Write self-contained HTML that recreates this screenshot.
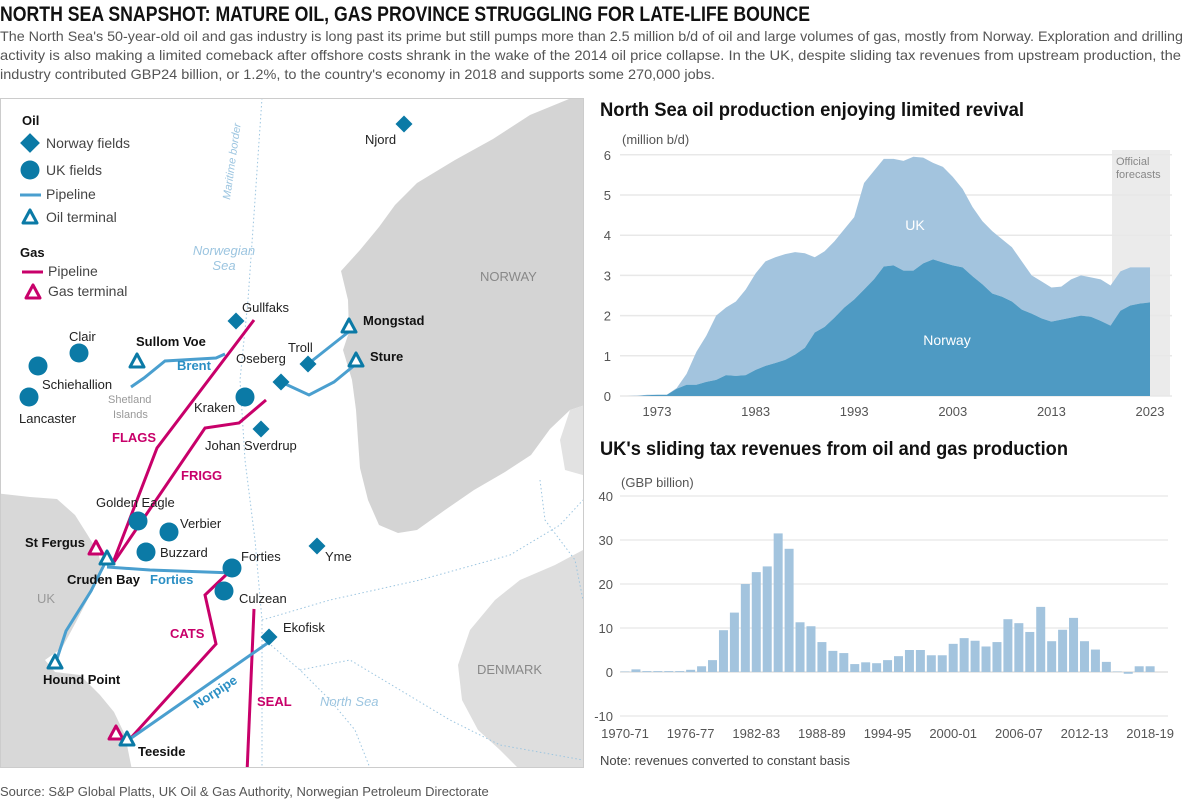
<!DOCTYPE html>
<html><head><meta charset="utf-8"><style>
html,body{margin:0;padding:0;background:#fff;}
svg{display:block;font-family:"Liberation Sans",sans-serif;}
.lbl{font-size:13px;fill:#222;}
.blbl{font-size:13px;fill:#111;font-weight:bold;}
.ax{font-size:13px;fill:#555;}
</style></head><body>
<svg id="root" width="1200" height="803" viewBox="0 0 1200 803">
<text x="0" y="21" font-size="21" font-weight="bold" fill="#111" textLength="810" lengthAdjust="spacingAndGlyphs">NORTH SEA SNAPSHOT: MATURE OIL, GAS PROVINCE STRUGGLING FOR LATE-LIFE BOUNCE</text>
<g font-size="14" fill="#555">
<text x="0" y="41" textLength="1183" lengthAdjust="spacingAndGlyphs">The North Sea's 50-year-old oil and gas industry is long past its prime but still pumps more than 2.5 million b/d of oil and large volumes of gas, mostly from Norway. Exploration and drilling</text>
<text x="0" y="60" textLength="1181" lengthAdjust="spacingAndGlyphs">activity is also making a limited comeback after offshore costs shrank in the wake of the 2014 oil price collapse. In the UK, despite sliding tax revenues from upstream production, the</text>
<text x="0" y="79" textLength="715" lengthAdjust="spacingAndGlyphs">industry contributed GBP24 billion, or 1.2%, to the country's economy in 2018 and supports some 270,000 jobs.</text>
</g>

<!-- MAP -->
<g>
<clipPath id="mc"><rect x="0" y="98" width="584" height="670"/></clipPath>
<g clip-path="url(#mc)">
<rect x="0" y="98" width="584" height="670" fill="#fff"/>
<path fill="#d4d4d4" d="M600,95 L569,99 L530,115 L493,139 L455,160 L417,183 L395,205 L379,227 L360,250 L341,271 L348,300 L349,332 L343,350 L352,380 L356,410 L358,440 L360,468 L368,500 L379,525 L398,533 L417,530 L445,510 L474,490 L505,472 L531,455 L550,429 L570,410 L600,400 Z"/>
<path fill="#e2e2e2" d="M600,400 L570,410 L560,440 L565,470 L600,480 Z"/>
<path fill="#dedede" d="M600,555 L583,550 L555,565 L520,580 L495,600 L470,630 L458,665 L462,700 L478,730 L500,750 L520,770 L600,770 Z"/>
<path fill="#d8d8d8" d="M-5,493 L30,497 L57,499 L75,515 L87,534 L98,552 L102,569 L90,595 L76,622 L62,648 L45,660 L55,672 L80,675 L100,695 L114,712 L125,735 L133,775 L-5,775 Z"/>
<g fill="none" stroke="#9cc5e0" stroke-width="1" stroke-dasharray="1.5,2.5">
<path d="M262,98 L255,200 L248,300 L240,380 L245,460 L255,540 L262,620 L262,770"/>
<path d="M262,620 L330,600 L420,580 L510,555 L560,525 L583,500"/>
<path d="M265,640 L300,670 L330,700 L355,730 L370,768"/>
<path d="M300,670 L350,660 L400,690 L450,720 L500,745 L583,760"/>
<path d="M540,480 L545,520 L575,560 L583,600"/>
</g>
<text x="230" y="200" font-size="11" font-style="italic" fill="#9cc5e0" transform="rotate(-82 230 200)">Maritime border</text>
<text x="224" y="255" text-anchor="middle" font-size="13" font-style="italic" fill="#9cc5e0">Norwegian</text>
<text x="224" y="270" text-anchor="middle" font-size="13" font-style="italic" fill="#9cc5e0">Sea</text>
<text x="320" y="706" font-size="13" font-style="italic" fill="#9cc5e0">North Sea</text>
<text x="480" y="281" font-size="13" fill="#888">NORWAY</text>
<text x="477" y="674" font-size="13" fill="#888">DENMARK</text>
<text x="37" y="603" font-size="13" fill="#999">UK</text>
<text x="108" y="403" font-size="11" fill="#999">Shetland</text>
<text x="113" y="418" font-size="11" fill="#999">Islands</text>

<g fill="none" stroke="#c8006a" stroke-width="3">
<polyline points="254,320 157,448 114,560"/>
<polyline points="266,400 239,423 205,428 114,562"/>
<polyline points="228,573 205,595 216,644 129,740"/>
<polyline points="254,609 247,773"/>
</g>
<g fill="none" stroke="#4a9fcf" stroke-width="3">
<polyline points="131,387 144,378 165,361 216,358 225,354"/>
<polyline points="107,567 150,570 234,573"/>
<polyline points="107,559 91,591 66,631 55,665"/>
<polyline points="272,640 127,741"/>
<polyline points="308,364 351,330"/>
<polyline points="281,382 309,395 334,382 356,364"/>
</g>
<g fill="#0b7aa6">
<rect x="-6" y="-6" width="12" height="12" transform="translate(404,124) rotate(45)"/>
<rect x="-6" y="-6" width="12" height="12" transform="translate(236,321) rotate(45)"/>
<rect x="-6" y="-6" width="12" height="12" transform="translate(308,364) rotate(45)"/>
<rect x="-6" y="-6" width="12" height="12" transform="translate(281,382) rotate(45)"/>
<rect x="-6" y="-6" width="12" height="12" transform="translate(261,429) rotate(45)"/>
<rect x="-6" y="-6" width="12" height="12" transform="translate(317,546) rotate(45)"/>
<rect x="-6" y="-6" width="12" height="12" transform="translate(269,637) rotate(45)"/>
</g>
<g fill="#0b7aa6">
<circle cx="79" cy="353" r="9.5"/>
<circle cx="38" cy="366" r="9.5"/>
<circle cx="29" cy="397" r="9.5"/>
<circle cx="245" cy="397" r="9.5"/>
<circle cx="138" cy="521" r="9.5"/>
<circle cx="169" cy="532" r="9.5"/>
<circle cx="146" cy="552" r="9.5"/>
<circle cx="232" cy="568" r="9.5"/>
<circle cx="224" cy="591" r="9.5"/>
</g>
<g fill="#fff" stroke-width="3" stroke-linejoin="round">
<path stroke="#c8006a" d="M96,541 L103,554 L89,554 Z"/>
<path stroke="#c8006a" d="M116,726 L123,739 L109,739 Z"/>
<path stroke="#0b7aa6" d="M137,354 L144,367 L130,367 Z"/>
<path stroke="#0b7aa6" d="M349,319 L356,332 L342,332 Z"/>
<path stroke="#0b7aa6" d="M356,353 L363,366 L349,366 Z"/>
<path stroke="#0b7aa6" d="M107,551 L114,564 L100,564 Z"/>
<path stroke="#0b7aa6" d="M55,655 L62,668 L48,668 Z"/>
<path stroke="#0b7aa6" d="M127,732 L134,745 L120,745 Z"/>
</g>
<g class="lbl">
<text x="365" y="144">Njord</text><text x="242" y="312">Gullfaks</text><text x="288" y="352">Troll</text>
<text x="236" y="363">Oseberg</text><text x="205" y="450">Johan Sverdrup</text><text x="325" y="561">Yme</text>
<text x="283" y="632">Ekofisk</text><text x="69" y="341">Clair</text><text x="42" y="389">Schiehallion</text>
<text x="19" y="423">Lancaster</text><text x="194" y="412">Kraken</text><text x="96" y="507">Golden Eagle</text>
<text x="180" y="528">Verbier</text><text x="160" y="557">Buzzard</text><text x="241" y="561">Forties</text>
<text x="239" y="603">Culzean</text>
</g>
<g class="blbl">
<text x="136" y="346">Sullom Voe</text><text x="363" y="325">Mongstad</text><text x="370" y="361">Sture</text>
<text x="25" y="547">St Fergus</text><text x="67" y="584">Cruden Bay</text><text x="43" y="684">Hound Point</text>
<text x="138" y="756">Teeside</text>
</g>
<g font-size="13" font-weight="bold">
<text x="177" y="370" fill="#2b8fc4">Brent</text><text x="150" y="584" fill="#2b8fc4">Forties</text>
<text x="197" y="709" fill="#2b8fc4" transform="rotate(-33 197 709)">Norpipe</text>
<text x="112" y="442" fill="#c8006a">FLAGS</text><text x="181" y="480" fill="#c8006a">FRIGG</text>
<text x="170" y="638" fill="#c8006a">CATS</text><text x="257" y="706" fill="#c8006a">SEAL</text>
</g>
<g>
<text x="22" y="125" font-size="13" font-weight="bold" fill="#111">Oil</text>
<rect x="-7" y="-7" width="14" height="14" fill="#0b7aa6" transform="translate(30,143) rotate(45)"/>
<text x="46" y="148" font-size="14" fill="#444">Norway fields</text>
<circle cx="30" cy="170" r="9.5" fill="#0b7aa6"/>
<text x="46" y="175" font-size="14" fill="#444">UK fields</text>
<line x1="20" y1="195" x2="41" y2="195" stroke="#4a9fcf" stroke-width="3"/>
<text x="46" y="199" font-size="14" fill="#444">Pipeline</text>
<path d="M30,210 L37,223 L23,223 Z" fill="#fff" stroke="#0b7aa6" stroke-width="3" stroke-linejoin="round"/>
<text x="46" y="222" font-size="14" fill="#444">Oil terminal</text>
<text x="20" y="257" font-size="13" font-weight="bold" fill="#111">Gas</text>
<line x1="22" y1="272" x2="43" y2="272" stroke="#c8006a" stroke-width="3"/>
<text x="48" y="276" font-size="14" fill="#444">Pipeline</text>
<path d="M33,285 L40,298 L26,298 Z" fill="#fff" stroke="#c8006a" stroke-width="3" stroke-linejoin="round"/>
<text x="48" y="296" font-size="14" fill="#444">Gas terminal</text>
</g>
</g>
<rect x="0.5" y="98.5" width="583" height="669" fill="none" stroke="#ccc"/>
</g>

<!-- AREA CHART -->
<g id="area">
<text x="600" y="116" font-size="19" font-weight="bold" fill="#111" textLength="424" lengthAdjust="spacingAndGlyphs">North Sea oil production enjoying limited revival</text>
<text x="622" y="144" class="ax">(million b/d)</text>
<rect x="1112" y="150" width="58" height="246" fill="#ebebeb"/>
<text x="1116" y="165" font-size="11" fill="#888">Official</text>
<text x="1116" y="178" font-size="11" fill="#888">forecasts</text>
</g>
<!-- BAR CHART -->
<g id="bars">
<text x="600" y="455" font-size="19" font-weight="bold" fill="#111" textLength="468" lengthAdjust="spacingAndGlyphs">UK's sliding tax revenues from oil and gas production</text>
<text x="621" y="487" class="ax">(GBP billion)</text>
</g>
<text x="600" y="765" font-size="13" fill="#444">Note: revenues converted to constant basis</text>
<text x="0" y="796" font-size="13" fill="#555">Source: S&amp;P Global Platts, UK Oil &amp; Gas Authority, Norwegian Petroleum Directorate</text>
</svg>
<script>
const NS="http://www.w3.org/2000/svg";
const years=[1970,1971,1972,1973,1974,1975,1976,1977,1978,1979,1980,1981,1982,1983,1984,1985,1986,1987,1988,1989,1990,1991,1992,1993,1994,1995,1996,1997,1998,1999,2000,2001,2002,2003,2004,2005,2006,2007,2008,2009,2010,2011,2012,2013,2014,2015,2016,2017,2018,2019,2020,2021,2022,2023];
const norwayOil=[0,0,0.02,0.03,0.03,0.18,0.28,0.28,0.35,0.4,0.52,0.5,0.52,0.65,0.75,0.82,0.9,1.03,1.2,1.58,1.72,1.95,2.2,2.4,2.65,2.9,3.22,3.25,3.12,3.12,3.3,3.4,3.32,3.25,3.2,2.98,2.78,2.55,2.47,2.35,2.15,2.05,1.93,1.85,1.9,1.95,2.0,1.97,1.87,1.75,2.12,2.25,2.3,2.33];
const ukOil=[0,0.01,0.01,0,0,0.02,0.27,0.82,1.15,1.6,1.68,1.85,2.13,2.4,2.6,2.63,2.63,2.55,2.35,1.87,1.88,1.9,1.95,2.05,2.65,2.7,2.68,2.65,2.73,2.83,2.63,2.4,2.38,2.2,1.95,1.72,1.57,1.55,1.43,1.35,1.2,0.95,0.92,0.85,0.82,0.95,1.0,0.98,1.03,1.0,0.98,0.95,0.9,0.87];
const prodTicks=[0,1,2,3,4,5,6];
const yearTicks=[1973,1983,1993,2003,2013,2023];
const taxPeriods=["1970-71","1971-72","1972-73","1973-74","1974-75","1975-76","1976-77","1977-78","1978-79","1979-80","1980-81","1981-82","1982-83","1983-84","1984-85","1985-86","1986-87","1987-88","1988-89","1989-90","1990-91","1991-92","1992-93","1993-94","1994-95","1995-96","1996-97","1997-98","1998-99","1999-00","2000-01","2001-02","2002-03","2003-04","2004-05","2005-06","2006-07","2007-08","2008-09","2009-10","2010-11","2011-12","2012-13","2013-14","2014-15","2015-16","2016-17","2017-18","2018-19"];
const taxValues=[0.1,0.6,0.2,0.2,0.2,0.2,0.5,1.3,2.7,9.5,13.5,20,22.7,24,31.5,28,11.3,10.4,6.8,4.8,4.3,1.8,2.2,2.0,2.7,3.6,5.0,5.0,3.8,3.8,6.4,7.7,7.1,5.8,6.8,12,11.1,9.1,14.8,7.0,9.6,12.3,7.0,5.1,2.3,0.1,-0.4,1.3,1.3];
const taxTicks=[-10,0,10,20,30,40];
const taxLabelPeriods=["1970-71","1976-77","1982-83","1988-89","1994-95","2000-01","2006-07","2012-13","2018-19"];

function el(t,a,p){const e=document.createElementNS(NS,t);for(const k in a)e.setAttribute(k,a[k]);p.appendChild(e);return e;}
// area
const A=document.getElementById('area');
const ax=y=>657+(y-1973)*9.86, ay=v=>396-v*40.2;
const gA=el('g',{},A);


prodTicks.forEach(t=>{
  el('line',{x1:620,x2:1172,y1:ay(t),y2:ay(t),stroke:'#e8e8e8','stroke-width':1.5},gA);
  const tx=el('text',{x:611,y:ay(t)+5,'text-anchor':'end',class:'ax'},gA);tx.textContent=t;
});
const tot=years.map((y,i)=>norwayOil[i]+ukOil[i]);
let d='M'+ax(years[0])+','+ay(0);
years.forEach((y,i)=>d+=' L'+ax(y)+','+ay(tot[i]));
for(let i=years.length-1;i>=0;i--)d+=' L'+ax(years[i])+','+ay(norwayOil[i]);
const pu=el('path',{d:d+'Z',fill:'#a3c4de'},A);


let d2='M'+ax(years[0])+','+ay(0);
years.forEach((y,i)=>d2+=' L'+ax(y)+','+ay(norwayOil[i]));
d2+=' L'+ax(years[years.length-1])+','+ay(0)+'Z';
const pn=el('path',{d:d2,fill:'#4e9ac3'},A);


let t1=el('text',{x:915,y:230,'text-anchor':'middle','font-size':14,fill:'#fff'},A);t1.textContent='UK';


let t2=el('text',{x:947,y:345,'text-anchor':'middle','font-size':14,fill:'#fff'},A);t2.textContent='Norway';


yearTicks.forEach(y=>{const t=el('text',{x:ax(y),y:416,'text-anchor':'middle',class:'ax'},A);t.textContent=y;

});
// bars
const B=document.getElementById('bars');
const bx=i=>625+i*10.94, by=v=>672-v*4.4;
taxTicks.forEach(t=>{
  el('line',{x1:620,x2:1168,y1:by(t),y2:by(t),stroke:t===0?'#e0e0e0':'#ececec','stroke-width':1.5},B);
  const tx=el('text',{x:613,y:by(t)+5,'text-anchor':'end',class:'ax'},B);tx.textContent=t;
  
  
});
taxValues.forEach((v,i)=>{
  const r=el('rect',{x:bx(i)-4.5,width:9,y:Math.min(by(v),by(0)),height:Math.abs(by(v)-by(0)),fill:'#a3c4de'},B);
  
  
});
taxLabelPeriods.forEach(p=>{const i=taxPeriods.indexOf(p);
  const t=el('text',{x:bx(i),y:738,'text-anchor':'middle',class:'ax'},B);t.textContent=p;
  
  });
</script>
</body></html>
